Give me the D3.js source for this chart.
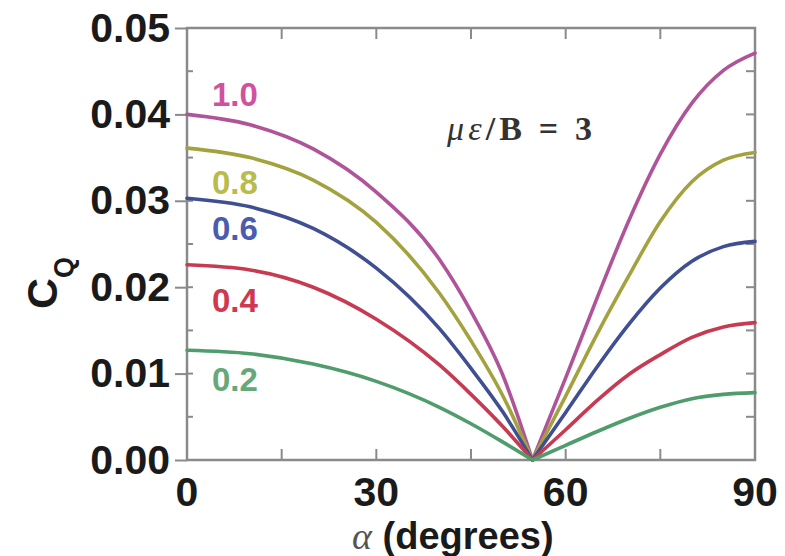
<!DOCTYPE html>
<html>
<head>
<meta charset="utf-8">
<script src="https://cdn.jsdelivr.net/npm/d3@7"></script>
<style>
  html, body { margin: 0; padding: 0; background: #fff; }
  svg { display: block; }
</style>
</head>
<body>
<svg id="chart" width="785" height="556"></svg>
<script>
// Angle grid (degrees); 54.74 is the magic angle where every curve vanishes
const alphaDeg = [0, 10, 20, 30, 40, 45, 50, 54.74, 60, 65, 70, 75, 80, 85, 90];

// C_Q for each value of the curve parameter
const cq10 = [0.0400, 0.0388, 0.0360, 0.0310, 0.0232, 0.0172, 0.0099, 0, 0.0095, 0.0188, 0.0277, 0.0354, 0.0413, 0.0451, 0.0471];
const cq08 = [0.0361, 0.0350, 0.0324, 0.0275, 0.0193, 0.0138, 0.0075, 0, 0.0074, 0.0146, 0.0213, 0.0276, 0.0322, 0.0347, 0.0356];
const cq06 = [0.0303, 0.0293, 0.0268, 0.0222, 0.0152, 0.0106, 0.0056, 0, 0.0055, 0.0108, 0.0157, 0.0199, 0.0230, 0.0247, 0.0253];
const cq04 = [0.0226, 0.0220, 0.0200, 0.0163, 0.0110, 0.0076, 0.0039, 0, 0.0035, 0.0069, 0.0099, 0.0122, 0.0142, 0.0154, 0.0159];
const cq02 = [0.0127, 0.0123, 0.0111, 0.0091, 0.0061, 0.0042, 0.0021, 0, 0.0017, 0.0033, 0.0048, 0.0061, 0.0071, 0.0076, 0.0078];

const seriesNames = ["1.0", "0.8", "0.6", "0.4", "0.2"];
const seriesValues = [cq10, cq08, cq06, cq04, cq02];

const xTicks = [0, 30, 60, 90];
const yTicks = [0.00, 0.01, 0.02, 0.03, 0.04, 0.05];

// Styling per series
const lineColors  = ["#b0549a", "#a3a23f", "#3f4f92", "#c63b52", "#4f9c6c"];
const labelColors = ["#d0529f", "#b9bb4c", "#4a5cb0", "#d0384f", "#66a878"];
const labelDy     = [-20, 34, 30, 36, 29];

const svg = d3.select("#chart");
const margin = { left: 187, right: 30, top: 28, bottom: 96 };
const W = 785, H = 556;

const x = d3.scaleLinear().domain([0, 90]).range([margin.left, W - margin.right]);
const y = d3.scaleLinear().domain([0, 0.05]).range([H - margin.bottom, margin.top]);

const axisColor = "#8a8a8a";
const tickFont = "'Liberation Sans', Arial, sans-serif";

// Inner (minor) ticks on all four sides
const g = svg.append("g");
const xMinor = d3.range(0, 91, 15);
const yMinor = d3.range(0, 0.0501, 0.005);

g.selectAll("line.bt").data(xMinor).join("line")
  .attr("x1", d => x(d)).attr("x2", d => x(d))
  .attr("y1", y(0)).attr("y2", y(0) - 11)
  .attr("stroke", axisColor).attr("stroke-width", 2);
g.selectAll("line.tt").data(xMinor).join("line")
  .attr("x1", d => x(d)).attr("x2", d => x(d))
  .attr("y1", y(0.05)).attr("y2", y(0.05) + 11)
  .attr("stroke", axisColor).attr("stroke-width", 2);
g.selectAll("line.rt").data(yMinor).join("line")
  .attr("x1", x(90)).attr("x2", x(90) - 9)
  .attr("y1", d => y(d)).attr("y2", d => y(d))
  .attr("stroke", axisColor).attr("stroke-width", 2);
g.selectAll("line.lt").data(yMinor).join("line")
  .attr("x1", x(0)).attr("x2", x(0) + 6)
  .attr("y1", d => y(d)).attr("y2", d => y(d))
  .attr("stroke", axisColor).attr("stroke-width", 2);

// Left axis with outward major ticks
const yAxis = d3.axisLeft(y).tickValues(yTicks).tickFormat(d3.format(".2f"))
  .tickSize(12).tickPadding(5);
const ya = svg.append("g").attr("transform", `translate(${x(0)},0)`).call(yAxis);
ya.select(".domain").remove();
ya.selectAll(".tick line").attr("stroke", axisColor).attr("stroke-width", 2);
ya.selectAll(".tick text")
  .attr("font-family", tickFont).attr("font-size", 41).attr("font-weight", "bold")
  .attr("fill", "#1a1a1a");

// Bottom axis labels
const xa = svg.append("g").attr("transform", `translate(0,${y(0)})`);
xa.selectAll("text").data(xTicks).join("text")
  .attr("x", d => x(d)).attr("y", 46)
  .attr("text-anchor", "middle")
  .attr("font-family", tickFont).attr("font-size", 41).attr("font-weight", "bold")
  .attr("fill", "#1a1a1a")
  .text(d => d);

// Frame
svg.append("rect")
  .attr("x", x(0)).attr("y", y(0.05))
  .attr("width", x(90) - x(0)).attr("height", y(0) - y(0.05))
  .attr("fill", "none").attr("stroke", axisColor).attr("stroke-width", 2.5);

// Curves: each branch drawn separately so the cusp at the magic angle stays sharp
const cusp = alphaDeg.indexOf(54.74);
const line = d3.line().x(d => x(d[0])).y(d => y(d[1])).curve(d3.curveMonotoneX);

seriesValues.forEach((vals, i) => {
  const pts = alphaDeg.map((a, k) => [a, vals[k]]);
  const left = pts.slice(0, cusp + 1);
  const right = pts.slice(cusp);
  svg.append("path")
    .attr("d", line(left) + line(right))
    .attr("fill", "none")
    .attr("stroke", lineColors[i])
    .attr("stroke-width", 3.6)
    .attr("stroke-linejoin", "round")
    .attr("stroke-linecap", "round");
});

// Series labels next to the start of each curve
seriesNames.forEach((name, i) => {
  svg.append("text")
    .attr("x", x(0) + 25)
    .attr("y", y(seriesValues[i][0]) + labelDy[i])
    .attr("dominant-baseline", "central")
    .attr("font-family", tickFont).attr("font-size", 33).attr("font-weight", "bold")
    .attr("fill", labelColors[i])
    .text(name);
});

// Parameter annotation
const ann = svg.append("text")
  .attr("x", 447).attr("y", 140)
  .attr("font-family", "'Liberation Serif', 'Times New Roman', serif")
  .attr("font-size", 34).attr("font-weight", "bold")
  .attr("fill", "#333")
  .attr("textLength", 145).attr("lengthAdjust", "spacing");
ann.append("tspan").attr("font-style", "italic").attr("font-weight", "normal").text("με");
ann.append("tspan").text("/B = 3");

// Axis titles
const yl = svg.append("text")
  .attr("transform", "translate(57,309) rotate(-90)")
  .attr("font-family", tickFont).attr("font-size", 43).attr("font-weight", "bold")
  .attr("fill", "#1a1a1a");
yl.append("tspan").text("C");
yl.append("tspan").attr("font-size", 27).attr("dy", 16).text("Q");

const xl = svg.append("text")
  .attr("x", 352).attr("y", 549)
  .attr("font-family", tickFont).attr("font-size", 38).attr("font-weight", "bold")
  .attr("fill", "#1a1a1a");
xl.append("tspan")
  .attr("font-family", "'Liberation Serif', 'Times New Roman', serif")
  .attr("font-style", "italic").attr("font-weight", "normal").attr("fill", "#555")
  .text("α");
xl.append("tspan").text(" (degrees)");
</script>
</body>
</html>
